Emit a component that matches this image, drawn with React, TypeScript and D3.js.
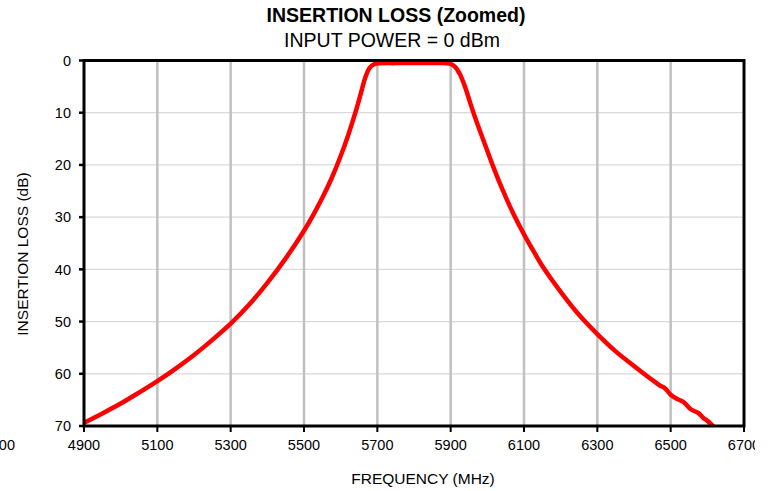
import React from "react";
import * as d3 from "d3";

const freqMHz = [
  4900, 4950, 5000, 5050, 5100, 5150, 5200, 5250, 5300, 5350, 5400, 5450, 5500,
  5525, 5550, 5575, 5600, 5620, 5640, 5655, 5667, 5679, 5692, 5750, 5800, 5850,
  5898, 5912, 5925, 5940, 5955, 5970, 5990, 6012, 6040, 6070, 6100, 6130, 6155,
  6200, 6250, 6300, 6350, 6400, 6450, 6470, 6485, 6500, 6520, 6535, 6555, 6575,
  6590, 6600, 6621,
];
const lossDB = [
  69.4, 67.6, 65.7, 63.6, 61.4, 59.0, 56.4, 53.5, 50.4, 46.8, 42.6, 37.9, 32.6,
  29.6, 26.3, 22.6, 18.3, 14.4, 10.0, 6.3, 3.3, 1.4, 0.7, 0.5, 0.5, 0.5,
  0.6, 1.2, 2.6, 5.2, 8.5, 11.6, 15.4, 19.6, 24.5, 29.2, 33.3, 37.0, 39.9,
  44.3, 48.7, 52.4, 55.7, 58.5, 61.2, 62.2, 62.8, 64.0, 64.9, 65.4, 66.8, 67.5,
  68.5, 69.0, 70.4,
];
const xTicks = [4900, 5100, 5300, 5500, 5700, 5900, 6100, 6300, 6500, 6700];
const yTicks = [0, 10, 20, 30, 40, 50, 60, 70];
const titleText = "INSERTION LOSS (Zoomed)";
const subtitleText = "INPUT POWER = 0 dBm";
const xTitle = "FREQUENCY (MHz)";
const yTitle = "INSERTION LOSS (dB)";
const extraLeftLabel = "4700";

const W = 774;
const H = 491;
const M = { left: 84, right: 744, top: 60.5, bottom: 426 };
const FONT = "'Liberation Sans', Arial, Helvetica, sans-serif";

export default function App() {
  const x = d3.scaleLinear().domain([4900, 6700]).range([M.left, M.right]);
  const y = d3.scaleLinear().domain([0, 70]).range([M.top, M.bottom]);
  const pts: [number, number][] = freqMHz.map((f, i) => [f, lossDB[i]]);
  const line = d3
    .line<[number, number]>()
    .x((d) => x(d[0]))
    .y((d) => y(d[1]))
    .curve(d3.curveCatmullRom.alpha(0.5));

  return (
    <svg
      width={W}
      height={H}
      style={{ position: "absolute", left: 0, top: 0, background: "#fff" }}
      fontFamily={FONT}
    >
      <defs>
        <clipPath id="plotClip">
          <rect x={M.left} y={M.top} width={M.right - M.left} height={M.bottom - M.top} />
        </clipPath>
        <clipPath id="labelClip">
          <rect x={0} y={430} width={755} height={40} />
        </clipPath>
      </defs>
      <rect x={0} y={0} width={W} height={H} fill="#fff" />

      {yTicks.slice(1, -1).map((t) => (
        <line key={"hg" + t} x1={M.left} x2={M.right} y1={y(t)} y2={y(t)} stroke="#d9d9d9" strokeWidth={1.2} />
      ))}
      {xTicks.slice(1, -1).map((t) => (
        <line key={"vg" + t} x1={x(t)} x2={x(t)} y1={M.top} y2={M.bottom} stroke="#c0c0c0" strokeWidth={2.5} />
      ))}

      <path
        d={line(pts) || ""}
        fill="none"
        stroke="#ff0000"
        strokeWidth={4.5}
        strokeLinejoin="round"
        strokeLinecap="round"
        clipPath="url(#plotClip)"
      />

      <rect
        x={M.left}
        y={M.top}
        width={M.right - M.left}
        height={M.bottom - M.top}
        fill="none"
        stroke="#000"
        strokeWidth={3}
      />

      {yTicks.map((t) => (
        <g key={"yt" + t}>
          <line x1={M.left - 5} x2={M.left} y1={y(t)} y2={y(t)} stroke="#000" strokeWidth={2.5} />
          <text x={71} y={y(t)} dy="0.36em" textAnchor="end" fontSize={14.5} fill="#000">
            {t}
          </text>
        </g>
      ))}

      {xTicks.map((t) => (
        <line key={"xt" + t} x1={x(t)} x2={x(t)} y1={M.bottom} y2={M.bottom + 6} stroke="#000" strokeWidth={2} />
      ))}
      <g clipPath="url(#labelClip)">
        {xTicks.map((t) => (
          <text key={"xl" + t} x={x(t)} y={450} textAnchor="middle" fontSize={14.5} fill="#000">
            {t}
          </text>
        ))}
        <text x={x(4900) - 69} y={450} textAnchor="end" fontSize={14.5} fill="#000">
          {extraLeftLabel}
        </text>
      </g>

      <text x={396} y={22} textAnchor="middle" fontSize={19.5} fontWeight="bold" fill="#000">
        {titleText}
      </text>
      <text x={392} y={47} textAnchor="middle" fontSize={19.5} fill="#000">
        {subtitleText}
      </text>
      <text x={423} y={484} textAnchor="middle" fontSize={15.5} fill="#000">
        {xTitle}
      </text>
      <text
        transform={`translate(28, 254) rotate(-90)`}
        textAnchor="middle"
        fontSize={15.5}
        fill="#000"
      >
        {yTitle}
      </text>
    </svg>
  );
}
